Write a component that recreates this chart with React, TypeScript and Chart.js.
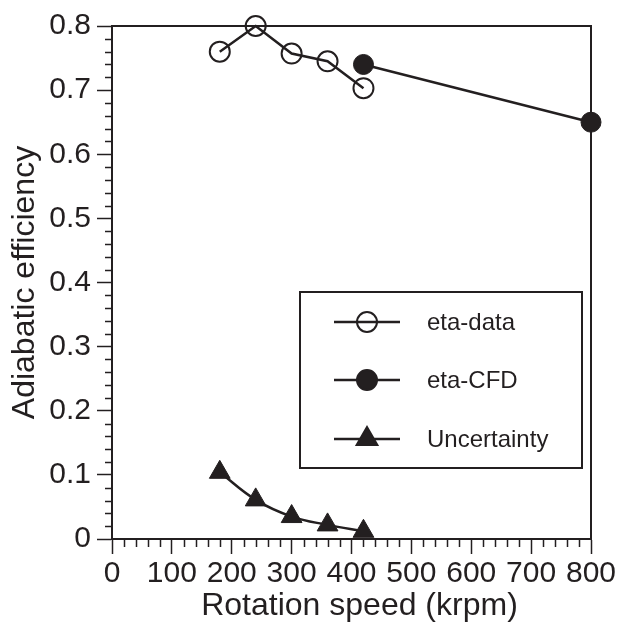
import React, { useEffect, useRef } from 'react';
import { Chart, registerables } from 'chart.js';

Chart.register(...registerables);

const speeds = [180, 240, 300, 360, 420];
const etaData = [0.76, 0.8, 0.757, 0.745, 0.703];
const cfdSpeeds = [420, 800];
const etaCfd = [0.74, 0.65];
const uncertainty = [0.104, 0.061, 0.035, 0.022, 0.012];
const seriesLabels = ['eta-data', 'eta-CFD', 'Uncertainty'];
const xTicksMajor = 100;
const xTicksMinor = 20;
const yTicksMajor = 0.1;
const yTicksMinor = 0.02;
const xTitle = 'Rotation speed (krpm)';
const yTitle = 'Adiabatic efficiency';

const INK = '#231f20';
const FONT = "'Liberation Sans', Arial, Helvetica, sans-serif";

function drawMarker(ctx: CanvasRenderingContext2D, style: string, x: number, y: number, r: number, fill: string | null) {
  ctx.beginPath();
  if (style === 'triangle') {
    let rad = 0;
    ctx.moveTo(x + Math.sin(rad) * r, y - Math.cos(rad) * r);
    rad += (2 * Math.PI) / 3;
    ctx.lineTo(x + Math.sin(rad) * r, y - Math.cos(rad) * r);
    rad += (2 * Math.PI) / 3;
    ctx.lineTo(x + Math.sin(rad) * r, y - Math.cos(rad) * r);
    ctx.closePath();
  } else {
    ctx.arc(x, y, r, 0, Math.PI * 2);
  }
  if (fill) {
    ctx.fillStyle = fill;
    ctx.fill();
  }
  ctx.lineWidth = 2;
  ctx.strokeStyle = INK;
  ctx.stroke();
}

const framePlugin = {
  id: 'frame',
  beforeDatasetsDraw(chart: any) {
    const { ctx, chartArea } = chart;
    const { left, top, right, bottom } = chartArea;
    ctx.save();
    ctx.strokeStyle = INK;
    ctx.lineWidth = 2;
    ctx.beginPath();
    ctx.moveTo(left - 1, top);
    ctx.lineTo(right, top);
    ctx.lineTo(right, bottom + 1);
    ctx.stroke();
    // minor ticks
    ctx.lineWidth = 1.5;
    const xs = chart.scales.x;
    const ys = chart.scales.y;
    ctx.beginPath();
    for (let v = 0; v <= 800 + 1e-9; v += xTicksMinor) {
      if (Math.abs(v / xTicksMajor - Math.round(v / xTicksMajor)) < 1e-6) continue;
      const px = Math.round(xs.getPixelForValue(v)) + 0.5;
      ctx.moveTo(px, bottom);
      ctx.lineTo(px, bottom + 8);
    }
    for (let i = 0; i <= 40; i++) {
      const v = i * yTicksMinor;
      if (i % 5 === 0) continue;
      const py = Math.round(ys.getPixelForValue(v)) + 0.5;
      ctx.moveTo(left, py);
      ctx.lineTo(left - 7, py);
    }
    ctx.stroke();
    // x axis title (offset to the right as in the original figure)
    ctx.fillStyle = INK;
    ctx.font = `32px ${FONT}`;
    ctx.textAlign = 'center';
    ctx.textBaseline = 'alphabetic';
    ctx.fillText(xTitle, (left + right) / 2 + 8, 615);
    ctx.restore();
  },
};

const legendPlugin = {
  id: 'boxLegend',
  afterDatasetsDraw(chart: any) {
    const { ctx } = chart;
    const bx = 300, by = 292, bw = 282, bh = 176;
    ctx.save();
    ctx.fillStyle = '#ffffff';
    ctx.fillRect(bx, by, bw, bh);
    ctx.strokeStyle = INK;
    ctx.lineWidth = 2;
    ctx.strokeRect(bx, by, bw, bh);
    const rows = [322, 380, 439];
    chart.data.datasets.forEach((ds: any, i: number) => {
      const y = rows[i];
      ctx.beginPath();
      ctx.strokeStyle = INK;
      ctx.lineWidth = 2.5;
      ctx.moveTo(334, y);
      ctx.lineTo(400, y);
      ctx.stroke();
      const fill = ds.pointBackgroundColor === 'rgba(0,0,0,0)' ? null : INK;
      drawMarker(ctx, ds.pointStyle, 367, y, ds.pointRadius, fill);
      ctx.fillStyle = INK;
      ctx.font = `24px ${FONT}`;
      ctx.textAlign = 'left';
      ctx.textBaseline = 'middle';
      ctx.fillText(ds.label, 427, y + 1);
    });
    ctx.restore();
  },
};

export default function App() {
  const ref = useRef<HTMLCanvasElement | null>(null);
  useEffect(() => {
    document.body.style.margin = '0';
    const canvas = ref.current;
    if (!canvas) return;
    const chart = new Chart(canvas, {
      type: 'scatter',
      data: {
        datasets: [
          {
            label: seriesLabels[0],
            data: speeds.map((s, i) => ({ x: s, y: etaData[i] })),
            showLine: true,
            borderColor: INK,
            borderWidth: 2.5,
            pointStyle: 'circle',
            pointRadius: 10,
            pointBorderWidth: 2,
            pointBorderColor: INK,
            pointBackgroundColor: 'rgba(0,0,0,0)',
            clip: false,
          },
          {
            label: seriesLabels[1],
            data: cfdSpeeds.map((s, i) => ({ x: s, y: etaCfd[i] })),
            showLine: true,
            borderColor: INK,
            borderWidth: 2.5,
            pointStyle: 'circle',
            pointRadius: 10,
            pointBorderWidth: 1,
            pointBorderColor: INK,
            pointBackgroundColor: INK,
            clip: false,
          },
          {
            label: seriesLabels[2],
            data: speeds.map((s, i) => ({ x: s, y: uncertainty[i] })),
            showLine: true,
            tension: 0.4,
            borderColor: INK,
            borderWidth: 2.5,
            pointStyle: 'triangle',
            pointRadius: 12,
            pointBorderWidth: 1,
            pointBorderColor: INK,
            pointBackgroundColor: INK,
            clip: false,
          },
        ],
      },
      options: {
        responsive: false,
        animation: false,
        devicePixelRatio: 1,
        layout: { padding: { top: 26, right: 29, left: 0, bottom: 0 } },
        plugins: {
          legend: { display: false },
          tooltip: { enabled: false },
        },
        scales: {
          x: {
            type: 'linear',
            min: 0,
            max: 800,
            ticks: {
              stepSize: xTicksMajor,
              autoSkip: false,
              maxRotation: 0,
              padding: 2,
              color: INK,
              font: { family: FONT, size: 30 },
            },
            grid: {
              drawOnChartArea: false,
              drawTicks: true,
              tickLength: 15,
              tickColor: INK,
              tickWidth: 1.5,
            },
            border: { display: true, color: INK, width: 2 },
            title: { display: false, text: xTitle },
            afterFit: (s: any) => {
              s.height = 87;
            },
          },
          y: {
            type: 'linear',
            min: 0,
            max: 0.8,
            ticks: {
              stepSize: yTicksMajor,
              autoSkip: false,
              padding: 6,
              color: INK,
              font: { family: FONT, size: 30 },
              callback: (v: any) => (Math.abs(Number(v)) < 1e-9 ? '0' : Number(v).toFixed(1)),
            },
            grid: {
              drawOnChartArea: false,
              drawTicks: true,
              tickLength: 15,
              tickColor: INK,
              tickWidth: 1.5,
            },
            border: { display: true, color: INK, width: 2 },
            title: {
              display: true,
              text: yTitle,
              color: INK,
              font: { family: FONT, size: 32 },
              padding: { top: 6, bottom: 0 },
            },
            afterFit: (s: any) => {
              s.width = 112;
            },
          },
        },
      },
      plugins: [framePlugin, legendPlugin],
    } as any);
    return () => chart.destroy();
  }, []);
  return (
    <div style={{ width: 620, height: 626 }}>
      <canvas ref={ref} width={620} height={626} style={{ display: 'block' }} />
    </div>
  );
}
